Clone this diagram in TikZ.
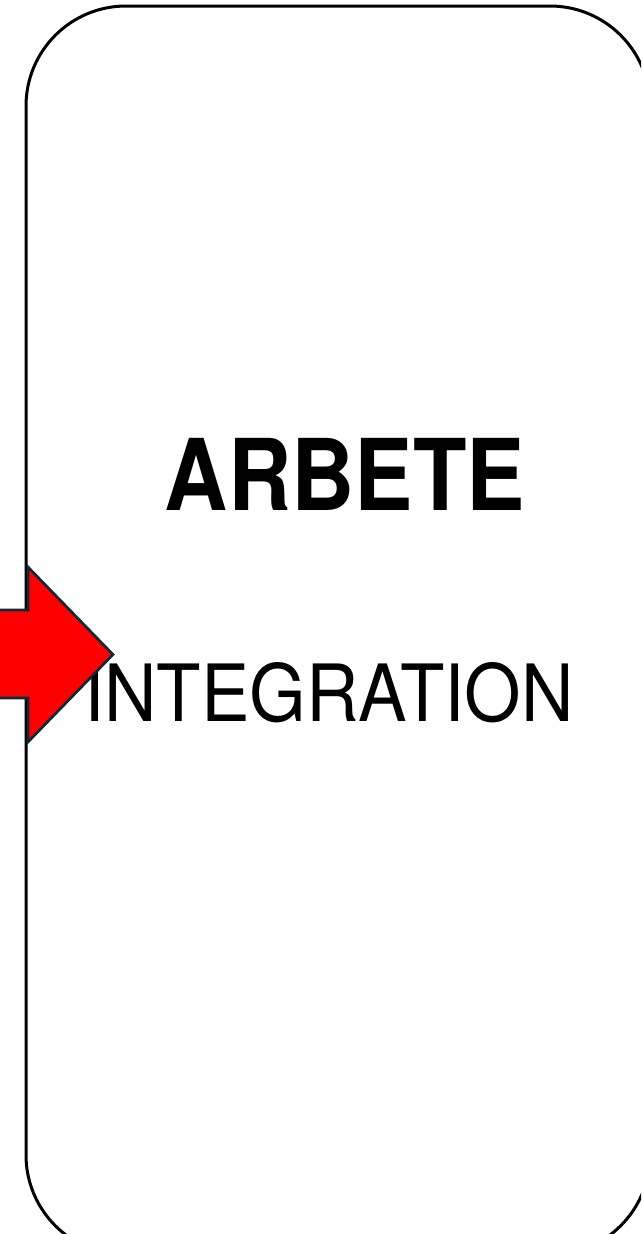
\documentclass[tikz,border=0pt]{standalone}
\usepackage{fontspec}
\setmainfont{TeX Gyre Heros}
\definecolor{arrowedge}{RGB}{13,40,55}
\definecolor{arrowfill}{RGB}{255,0,0}
\tikzset{
  panel/.style={draw=black, line width=3pt, rounded corners=100pt},
  bigarrow/.style={fill=arrowfill, draw=arrowedge, line width=2.6pt, line join=miter},
  titletext/.style={inner sep=0pt, anchor=base, font=\fontsize{99}{99}\selectfont\bfseries},
  subtext/.style={inner sep=0pt, anchor=base, font=\fontsize{79}{79}\selectfont}
}
\begin{document}
\begin{tikzpicture}[x=1pt, y=-1pt]
\useasboundingbox (0,0) rectangle (641,1234);
\clip (0,0) rectangle (641,1234);
\fill[white] (0,0) rectangle (641,1234);
\draw[panel] (26,6) rectangle (650,1255);
\node[titletext] (title) at (345,510) {\scalebox{0.885}[1]{ARBETE}};
\node[subtext] (sub) at (329,721) {\scalebox{0.92}[1]{INTEGRATION}};
\draw[bigarrow] (-10,610) -- (28,610) -- (28,567) -- (113,654.5) -- (28,742) -- (28,698) -- (-10,698) -- cycle;
\end{tikzpicture}
\end{document}
